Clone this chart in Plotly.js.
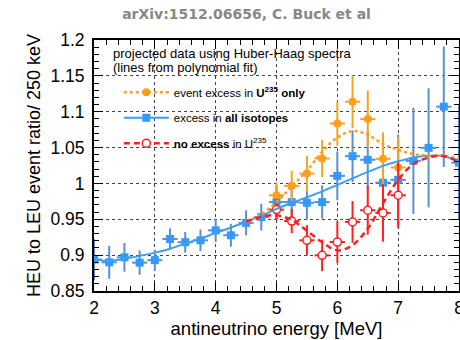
<!DOCTYPE html>
<html>
<head>
<meta charset="utf-8">
<script src="https://cdn.plot.ly/plotly-3.0.1.min.js"></script>
<style>
html,body{margin:0;padding:0;background:#fff;overflow:hidden;}
#chart{width:460px;height:340px;}
</style>
</head>
<body>
<div id="chart"></div>
<script>
// ---- data ----
var energies = [2.0,2.25,2.5,2.75,3.0,3.25,3.5,3.75,4.0,4.25,4.5,4.75,5.0,5.25,5.5,5.75,6.0,6.25,6.5,6.75,7.0,7.25,7.5,7.75,8.0];
var allIsotopesRatio = [0.894,0.890,0.897,0.8895,0.893,0.9225,0.918,0.9207,0.9346,0.9277,0.945,0.953,0.974,0.974,0.973,0.974,1.0105,1.038,1.033,1.001,1.005,1.0315,1.0496,1.107,1.029];
var allIsotopesErr = [0.029,0.023,0.020,0.017,0.0145,0.0147,0.0144,0.015,0.0163,0.016,0.0175,0.0186,0.024,0.028,0.023,0.023,0.034,0.036,0.04,0.055,0.063,0.074,0.083,0.084,0.08];

var excessEnergies = [5.0,5.25,5.5,5.75,6.0,6.25,6.5,6.75,7.0];
var u235OnlyRatio = [0.9835,0.9966,1.0138,1.0348,1.0836,1.1139,1.0897,1.0343,1.0223];
var u235OnlyErr = [0.018,0.021,0.025,0.026,0.031,0.037,0.04,0.037,0.042];
var noExcessRatio = [0.9635,0.9475,0.9207,0.8997,0.9183,0.9463,0.9626,0.9588,0.9835];
var noExcessErr = [0.015,0.017,0.021,0.022,0.029,0.029,0.034,0.04,0.046];

var binHalfWidth = 0.125;

var fitEnergies = [2.0,2.25,2.5,2.75,3.0,3.25,3.5,3.75,4.0,4.25,4.5,4.75,5.0,5.25,5.5,5.75,6.0,6.25,6.5,6.75,7.0,7.25,7.5,7.75,8.0];
var allIsotopesFit = [0.894,0.892,0.895,0.899,0.9035,0.909,0.916,0.923,0.931,0.9385,0.9465,0.9548,0.9645,0.9728,0.9807,0.989,0.998,1.007,1.016,1.0245,1.031,1.036,1.0385,1.038,1.030];
var excessFitEnergies = [4.5,4.75,5.0,5.25,5.5,5.75,6.0,6.25,6.5,6.75,7.0,7.25,7.5,7.75,8.0];
var u235OnlyFit = [0.9465,0.957,0.974,0.996,1.018,1.044,1.064,1.073,1.068,1.055,1.047,1.041,1.039,1.039,1.035];
var noExcessFit = [0.9465,0.9535,0.9555,0.949,0.934,0.918,0.9067,0.914,0.937,0.972,1.005,1.027,1.036,1.038,1.030];

var xTickVals = [2,3,4,5,6,7,8];
var yTickVals = [0.85,0.9,0.95,1,1.05,1.1,1.15,1.2];

var labels = {
  u235: 'event excess in <b>U<sup>235</sup> only</b>',
  all: 'excess in <b>all isotopes</b>',
  none: '<b>no excess</b> in U<sup>235</sup>'
};
var legendHeader = ['projected data using Huber-Haag spectra', '(lines from polynomial fit)'];

// ---- styles ----
var BLUE = '#3399ff', BLUE_BAR = '#5b8fcf', BLUE_LINE = '#3d9ff2';
var ORANGE = '#ff9e1b', ORANGE_BAR = '#f7a322';
var RED = '#ff1f1f';

function bars(arr, color) {
  return {type:'data', array:arr, visible:true, color:color, thickness:2, width:0};
}
function xbars(color) {
  return {type:'constant', value:binHalfWidth, visible:true, color:color, thickness:2, width:0};
}

var traces = [
  {x:energies, y:allIsotopesRatio, mode:'markers', showlegend:false,
   error_y:bars(allIsotopesErr, BLUE_BAR), error_x:xbars(BLUE_BAR),
   marker:{symbol:'square', size:8, color:BLUE}},
  {x:excessEnergies, y:u235OnlyRatio, mode:'markers', showlegend:false,
   error_y:bars(u235OnlyErr, ORANGE_BAR), error_x:xbars(ORANGE_BAR),
   marker:{symbol:'circle', size:8, color:ORANGE}},
  {x:excessEnergies, y:noExcessRatio, mode:'markers', showlegend:false,
   error_y:bars(noExcessErr, RED), error_x:xbars(RED),
   marker:{symbol:'circle', size:8, color:'#ffffff', line:{color:RED, width:1.5}}},
  {x:fitEnergies, y:allIsotopesFit, mode:'lines+markers', name:labels.all,
   legendrank:2, legendgroup:'b',
   line:{color:BLUE_LINE, width:2, shape:'spline'},
   marker:{symbol:'square', size:8, color:BLUE},
   selectedpoints:[], unselected:{marker:{opacity:0}}},
  {x:excessFitEnergies, y:u235OnlyFit, mode:'lines+markers', name:labels.u235,
   legendrank:1, legendgroup:'a',
   line:{color:ORANGE, width:2.5, dash:'dot', shape:'spline'},
   marker:{symbol:'circle', size:8, color:ORANGE},
   selectedpoints:[], unselected:{marker:{opacity:0}}},
  {x:excessFitEnergies, y:noExcessFit, mode:'lines+markers', name:labels.none,
   legendrank:3, legendgroup:'c',
   line:{color:RED, width:2.5, dash:'6px,4px', shape:'spline'},
   marker:{symbol:'circle', size:8, color:'#ffffff', line:{color:RED, width:1.5}},
   selectedpoints:[], unselected:{marker:{opacity:0}}}
];

var FONT = 'Liberation Sans, Arial, sans-serif';
var axisCommon = {
  ticks:'inside', ticklen:9, tickwidth:1, tickcolor:'#000',
  showline:true, linecolor:'#000', linewidth:2, mirror:'ticks',
  showgrid:true, gridcolor:'#444', gridwidth:1, griddash:'dot',
  zeroline:false, tickfont:{family:FONT, size:17.5, color:'#000'},
  ticklabeloverflow:'allow'
};

var layout = {
  width:460, height:340,
  margin:{l:94, r:1, t:40, b:49},
  paper_bgcolor:'#fff', plot_bgcolor:'#fff',
  font:{family:FONT, color:'#000'},
  title:{text:'<b>arXiv:1512.06656, C. Buck et al</b>', font:{family:'DejaVu Sans', size:14, color:'#888'},
         xref:'container', x:0.536, xanchor:'center', yref:'container', y:0.96, yanchor:'middle'},
  xaxis:Object.assign({}, axisCommon, {
    range:[2,8], tickvals:xTickVals,
    minor:{dtick:0.2, tick0:2, ticks:'inside', ticklen:5, tickcolor:'#000', showgrid:false},
    title:{text:'antineutrino energy [MeV]', font:{family:FONT, size:18.5}, standoff:5}
  }),
  yaxis:Object.assign({}, axisCommon, {
    range:[0.85,1.2], tickvals:yTickVals, ticklabelstandoff:4,
    minor:{dtick:0.01, tick0:0.85, ticks:'inside', ticklen:5, tickcolor:'#000', showgrid:false},
    title:{text:'HEU to LEU event ratio/ 250 keV', font:{family:FONT, size:18}, standoff:5}
  }),
  legend:{x:0.068, y:0.85, xanchor:'left', yanchor:'top', bgcolor:'rgba(0,0,0,0)',
    font:{family:FONT, size:11.5, color:'#000'}, itemwidth:45, tracegroupgap:6.5},
  annotations:[
    {text:legendHeader[0], xref:'paper', yref:'paper', x:0.046, y:0.948, xanchor:'left', yanchor:'middle',
     showarrow:false, font:{family:FONT, size:13, color:'#000'}},
    {text:legendHeader[1], xref:'paper', yref:'paper', x:0.046, y:0.892, xanchor:'left', yanchor:'middle',
     showarrow:false, font:{family:FONT, size:13, color:'#000'}}
  ],
  showlegend:true
};

Plotly.newPlot('chart', traces, layout, {staticPlot:true, displayModeBar:false});
</script>
</body>
</html>
